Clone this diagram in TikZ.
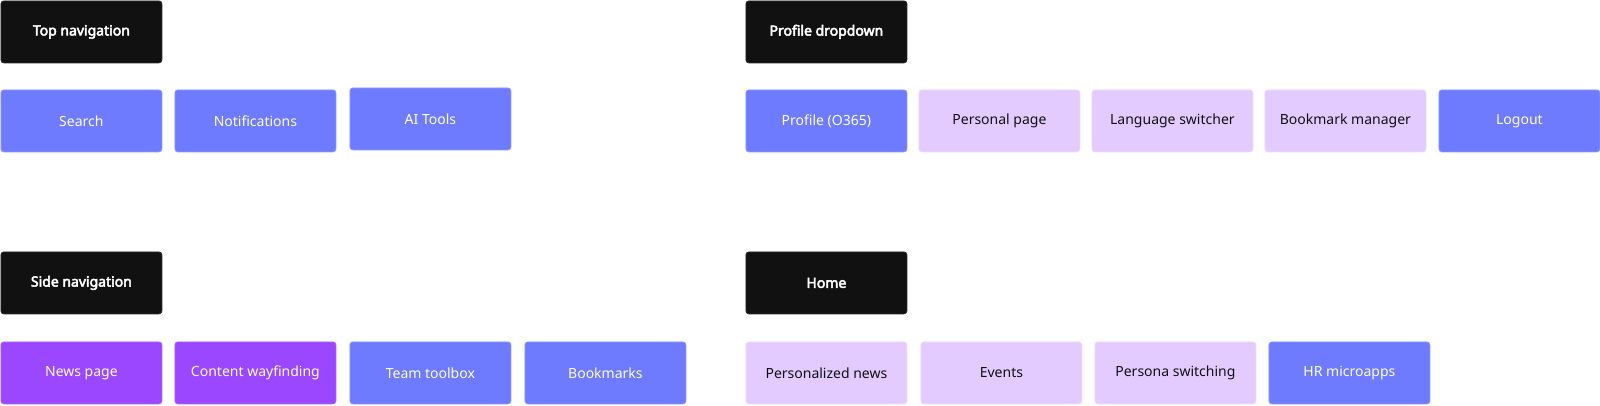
\documentclass[tikz,border=0pt]{standalone}
\usepackage{fontspec}
\setmainfont{Noto Sans}
\newfontfamily\headfont{Noto Sans}[FakeBold=3.5]
\definecolor{hdark}{HTML}{111111}
\definecolor{hdarkb}{HTML}{2A2A2A}
\definecolor{blu}{HTML}{6E7BFF}
\definecolor{blub}{HTML}{8E97FF}
\definecolor{lpur}{HTML}{E3CBFF}
\definecolor{lpurb}{HTML}{EBDAFF}
\definecolor{pur}{HTML}{9A47FF}
\definecolor{purb}{HTML}{A865FF}
\definecolor{ink}{HTML}{111111}
\begin{document}
\begin{tikzpicture}[x=1pt,y=-1pt,
  box/.style={anchor=north west, minimum width=161pt, minimum height=62pt,
    rounded corners=3pt, inner sep=0pt, line width=0.8pt,
    font=\fontsize{14}{17}\selectfont},
  head/.style={box, fill=hdark, draw=hdarkb, text=white,
    font=\headfont\fontsize{14}{17}\selectfont},
  bluebox/.style={box, fill=blu, draw=blub, text=white},
  lightbox/.style={box, fill=lpur, draw=lpurb, text=ink},
  purbox/.style={box, fill=pur, draw=purb, text=white}
]
\useasboundingbox (0,0) rectangle (1600,405);
% Top navigation
\node[head] (topnav) at (0.5,0.5) {Top navigation};
\node[bluebox] (search) at (0.5,89.5) {Search};
\node[bluebox] (notif) at (174.5,89.5) {Notifications};
\node[bluebox] (aitools) at (349.5,87.5) {AI Tools};
% Profile dropdown
\node[head] (profdd) at (745.5,0.5) {Profile dropdown};
\node[bluebox] (profile) at (745.5,89.5) {Profile (O365)};
\node[lightbox] (personal) at (918.5,89.5) {Personal page};
\node[lightbox] (lang) at (1091.5,89.5) {Language switcher};
\node[lightbox] (bmmgr) at (1264.5,89.5) {Bookmark manager};
\node[bluebox] (logout) at (1438.5,89.5) {Logout};
% Side navigation
\node[head] (sidenav) at (0.5,251.5) {Side navigation};
\node[purbox] (news) at (0.5,341.5) {News page};
\node[purbox] (content) at (174.5,341.5) {Content wayfinding};
\node[bluebox] (team) at (349.5,341.5) {Team toolbox};
\node[bluebox] (bookmarks) at (524.5,341.5) {Bookmarks};
% Home
\node[head] (home) at (745.5,251.5) {Home};
\node[lightbox] (pnews) at (745.5,341.5) {Personalized news};
\node[lightbox] (events) at (920.5,341.5) {Events};
\node[lightbox] (persona) at (1094.5,341.5) {Persona switching};
\node[bluebox] (hr) at (1268.5,341.5) {HR microapps};
\end{tikzpicture}
\end{document}
